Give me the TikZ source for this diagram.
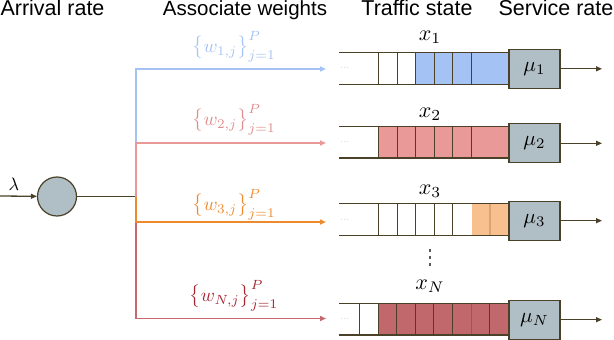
\documentclass[tikz,border=0pt]{standalone}
\usepackage{fontspec}
\setmainfont{Liberation Sans}
\usepackage{graphicx}
\usetikzlibrary{arrows.meta}
\newcommand{\qmath}[2]{\scalebox{#1}{$#2$}}
\definecolor{lc}{HTML}{4A4128}
\definecolor{gfill}{HTML}{B0BEC5}
\definecolor{cblue}{HTML}{A4C2F4}
\definecolor{cpink}{HTML}{EA9999}
\definecolor{cpinklab}{HTML}{E08C8C}
\definecolor{corange}{HTML}{EE8A2E}
\definecolor{corangefill}{HTML}{F9C08F}
\definecolor{corangediv}{HTML}{DDA272}
\definecolor{cdred}{HTML}{C46A6E}
\definecolor{cdredfill}{HTML}{C0686C}
\definecolor{cdredlab}{HTML}{A52530}
\begin{document}
\begin{tikzpicture}[x=1pt,y=-1pt,
  hdr/.style={font=\fontsize{21.5}{24}\selectfont, inner sep=0pt, anchor=base},
  arr/.style={-{Triangle[length=6pt,width=5pt]}},
  ql/.style={draw=lc, line width=1.2pt},
  bl/.style={line width=1.5pt, arr},
  svc/.style={draw=lc, line width=1.2pt, fill=gfill, minimum width=51pt, minimum height=39pt, inner sep=0pt, font=\fontsize{10}{12}\selectfont},
  mlab/.style={font=\fontsize{10}{12}\selectfont, inner sep=0pt},
  qdots/.style={font=\fontsize{10}{12}\selectfont, text=black!60, inner sep=0pt}
]
\useasboundingbox (0,0) rectangle (614,340);

% headers
\node[hdr] (h1) at (52.5,16) {Arrival rate};
\node[hdr, font=\fontsize{20.5}{24}\selectfont] (h2) at (245,16) {Associate weights};
\node[hdr] (h3) at (417,16) {Traffic state};
\node[hdr] (h4) at (556,16) {Service rate};

% arrival
\coordinate (in) at (0,196);
\node[circle, draw=lc, line width=1.2pt, fill=gfill, minimum size=39pt, inner sep=0pt] (c) at (57,196.5) {};
\node[mlab] (lam) at (14,184) {\qmath{1.8}{\lambda}};
\draw[lc, line width=1.3pt, arr] (in) -- (c);
\coordinate (J) at (136,196.5);
\draw[lc, line width=1.3pt] (c) -- (J);

% branch end points
\coordinate (b1) at (326,69);
\coordinate (b2) at (326,143);
\coordinate (b3) at (326,222);
\coordinate (bN) at (326,318.5);
\draw[bl, cblue] (J) |- (b1);
\draw[bl, cpink] (J) |- (b2);
\draw[bl, cdred] (J) |- (bN);
\draw[bl, corange] (J) |- (b3);

% weight labels
\node[mlab, text=cblue] (w1) at (234,47) {\qmath{1.9}{\bigl\{w_{1,j}\bigr\}_{j=1}^{P}}};
\node[mlab, text=cpinklab] (w2) at (234,120) {\qmath{1.9}{\bigl\{w_{2,j}\bigr\}_{j=1}^{P}}};
\node[mlab, text=corange] (w3) at (234,205) {\qmath{1.9}{\bigl\{w_{3,j}\bigr\}_{j=1}^{P}}};
\node[mlab, text=cdredlab] (wN) at (234,296) {\qmath{1.9}{\bigl\{w_{N,j}\bigr\}_{j=1}^{P}}};

% queue 1
\fill[cblue] (415.3,52.3) rectangle (509,84.3);
\foreach \xx in {378.3,397.3,415.3,434.3,452.3,471.7} \draw[ql] (\xx,52.3) -- (\xx,84.3);
\draw[ql] (339,52.3) -- (509,52.3);
\draw[ql] (339,84.3) -- (509,84.3);
\node[qdots] (d1) at (345,68.3) {\qmath{0.7}{\cdots}};
\node[svc] (s1) at (534.5,68.8) {\qmath{2.1}{\mu_1}};
\node[mlab] (x1) at (430,37) {\qmath{2.2}{x_1}};

% queue 2
\fill[cpink] (378.3,126.7) rectangle (509,158);
\foreach \xx in {378.3,397.3,415.3,434.3,452.3,471.7} \draw[ql] (\xx,126.7) -- (\xx,158);
\draw[ql] (339,126.7) -- (509,126.7);
\draw[ql] (339,158) -- (509,158);
\node[qdots] (d2) at (345,142.3) {\qmath{0.7}{\cdots}};
\node[svc] (s2) at (534.5,143.3) {\qmath{2.1}{\mu_2}};
\node[mlab] (x2) at (430,114) {\qmath{2.2}{x_2}};

% queue 3
\fill[corangefill] (471.7,203.3) rectangle (509,235.7);
\foreach \xx in {378.3,397.3,415.3,434.3,452.3} \draw[ql] (\xx,203.3) -- (\xx,235.7);
\draw[line width=1.2pt, corangediv] (490,203.3) -- (490,235.7);
\draw[ql] (339,203.3) -- (509,203.3);
\draw[ql] (339,235.7) -- (509,235.7);
\node[qdots] (d3) at (345,219.5) {\qmath{0.7}{\cdots}};
\node[svc] (s3) at (534.5,220.7) {\qmath{2.1}{\mu_3}};
\node[mlab] (x3) at (430,191) {\qmath{2.2}{x_3}};

% vertical dots (drawn)
\foreach \yy in {250.5,257.5,264.5} \fill[black!65] (428.8,\yy-1.2) rectangle (431.2,\yy+1.2);

% queue N
\fill[cdredfill] (378.3,303.3) rectangle (509,335);
\foreach \xx in {359.3,378.3,396.7,415.7,433.7,452.3,489.7} \draw[ql] (\xx,303.3) -- (\xx,335);
\draw[line width=1.2pt, cdred!80!black] (471.3,303.3) -- (471.3,335);
\draw[ql] (339,303.3) -- (509,303.3);
\draw[ql] (339,335) -- (509,335);
\node[qdots] (dN) at (345,319) {\qmath{0.7}{\cdots}};
\node[svc] (sN) at (534.5,319.7) {\qmath{2.1}{\mu_N}};
\node[mlab] (xN) at (430,286) {\qmath{2.2}{x_N}};

% outputs
\coordinate (o1) at (602,68.8);
\coordinate (o2) at (602,143.3);
\coordinate (o3) at (602,220.7);
\coordinate (oN) at (602,319.7);
\foreach \s/\o in {s1/o1,s2/o2,s3/o3,sN/oN} \draw[lc, line width=1.2pt, arr] (\s) -- (\o);
\end{tikzpicture}
\end{document}
